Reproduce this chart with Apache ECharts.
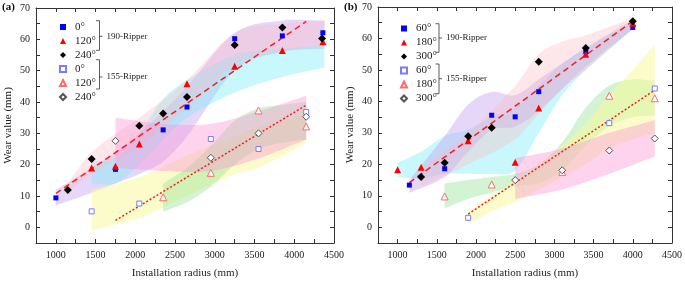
<!DOCTYPE html>
<html>
<head>
<meta charset="utf-8">
<script src="https://cdn.jsdelivr.net/npm/echarts@6/dist/echarts.min.js"></script>
<style>
  html, body { margin: 0; padding: 0; background: #fff; }
  #chart { width: 685px; height: 284px; }
</style>
</head>
<body>
<div id="chart"></div>
<script>
const FONT = 'Liberation Serif';

// panel (a) points [radius, wear]
const a190_0 = [[1000, 9.4], [1750, 18.5], [2350, 31.1], [2650, 38.4], [3250, 60.2], [3850, 61.1], [4360, 62.1]];
const a190_120 = [[1450, 18.9], [1750, 19.5], [2050, 26.6], [2650, 45.8], [3250, 51.4], [3850, 56.4], [4360, 59.2]];
const a190_240 = [[1150, 11.9], [1450, 21.8], [2050, 32.4], [2350, 36.3], [2650, 41.6], [3250, 58.2], [3850, 63.8], [4350, 60.3]];
const a155_0 = [[1450, 5.1], [2050, 7.6], [2950, 28.2], [3550, 25.0], [4150, 36.8]];
const a155_120 = [[2350, 9.6], [2950, 17.4], [3550, 37.3], [4150, 32.2]];
const a155_240 = [[1750, 27.6], [2950, 22.2], [3550, 30.0], [4150, 35.3]];
const a190Fit = [[1000, 10.8], [4150, 65.7]];
const a155Fit = [[1750, 2.2], [4150, 39.0]];

// panel (b) points
const b190_60 = [[1150, 13.4], [1600, 18.6], [2200, 35.6], [2500, 35.1], [2800, 43.1], [3400, 55.8], [4000, 63.5]];
const b190_180 = [[1000, 18.3], [1300, 19.1], [1900, 27.5], [2500, 20.7], [2800, 37.9], [3400, 55.0], [4000, 64.8]];
const b190_300 = [[1300, 16.0], [1600, 20.5], [1900, 28.9], [2200, 31.6], [2800, 52.6], [3400, 57.0], [4000, 65.5]];
const b155_60 = [[1900, 3.0], [3700, 33.1], [4280, 44.1]];
const b155_180 = [[1600, 9.8], [2200, 13.6], [3100, 17.6], [3700, 41.8], [4280, 41.0]];
const b155_300 = [[2500, 15.0], [3100, 18.1], [3700, 24.4], [4280, 28.2]];
const b190Fit = [[1150, 14.2], [4000, 65.5]];
const b155Fit = [[1900, 4.2], [4280, 43.6]];

// shaded bands [radius, lower, upper]
const aPurple = [[1000, 7, 12], [1450, 11, 19], [1750, 14, 24], [2050, 17, 30], [2350, 21, 37], [2650, 29, 45], [3250, 50, 62], [3850, 56, 66], [4380, 57, 66]];
const aCyan = [[1450, 14, 21], [1750, 14, 22], [2050, 20, 30], [2350, 28, 41], [2650, 35, 47], [3250, 43, 55], [3850, 48, 57], [4380, 51, 58]];
const aPink = [[1150, 11, 14], [1450, 17, 24], [2050, 26, 35], [2650, 38, 47], [3250, 52, 62], [3850, 56, 65], [4380, 58, 66]];
const aYellow = [[1450, -1, 12], [2050, 3, 16], [2650, 10, 23], [3250, 17, 29], [3550, 19, 32], [4150, 27, 36]];
const aGreen = [[2350, 5, 14], [2650, 8, 19], [2950, 13, 26], [3250, 20, 34], [3550, 25, 38], [3850, 27, 39], [4150, 28, 40]];
const aMagenta = [[1750, 19, 35], [2350, 18, 33], [2950, 18, 33], [3550, 22, 37], [4150, 28, 42]];

const bCyan = [[1000, 16, 20.5], [1300, 15.5, 24], [1600, 17, 29], [1900, 17, 31], [2200, 17, 35], [2500, 18, 38], [2800, 30, 45], [3100, 42, 52], [3400, 50, 57], [4000, 63, 65]];
const bPurple = [[1150, 11, 15], [1600, 16, 29], [1900, 24, 39], [2200, 31, 43], [2500, 32, 42], [2800, 37, 47], [3400, 51, 57], [4000, 63, 66]];
const bPink = [[1300, 13, 19], [1900, 20, 30], [2500, 28, 45], [2800, 36, 55], [3100, 44, 59], [3400, 50, 61], [4000, 63, 66.5]];
const bGreen = [[1600, 6, 14], [1900, 9, 15], [2200, 11, 16], [2500, 13, 17], [2800, 14, 20], [3100, 18, 27], [3400, 26, 38], [3700, 32, 45], [4000, 35, 47], [4280, 35.5, 46.5]];
const bYellow = [[1900, 1, 5], [2200, 5, 10], [2500, 8, 15], [2800, 12, 20], [3100, 16, 26], [3400, 20, 33], [3700, 25, 42], [4000, 28, 50], [4280, 30, 58]];
const bMagenta = [[2500, 9, 22], [3100, 12, 25], [3700, 17, 30], [4280, 22.5, 34]];

const legendText = {
  a190_0: '0°', a190_120: '120°', a190_240: '240°',
  a155_0: '0°', a155_120: '120°', a155_240: '240°',
  b190_60: '60°', b190_180: '180°', b190_300: '300°',
  b155_60: '60°', b155_180: '180°', b155_300: '300°'
};

const chart = echarts.init(document.getElementById('chart'));

function xAxes(g) {
  const base = {
    gridIndex: g, type: 'value', min: 750, max: 4500, interval: 250,
    axisLine: { show: true, onZero: false, lineStyle: { color: '#333', width: 1 } },
    axisTick: { show: true, inside: true, length: 4, lineStyle: { color: '#333' } },
    splitLine: { show: false }
  };
  return [
    Object.assign({}, base, {
      position: 'bottom',
      axisLabel: { fontFamily: FONT, fontSize: 10, color: '#222', margin: 7,
        formatter: v => (v % 500 === 0 && v >= 1000) ? v : '' },
      name: 'Installation radius (mm)', nameLocation: 'middle', nameGap: 25,
      nameTextStyle: { fontFamily: FONT, fontSize: 11, color: '#222' }
    }),
    Object.assign({}, base, { position: 'top', axisLabel: { show: false } })
  ];
}

function yAxes(g) {
  const base = {
    gridIndex: g, type: 'value', min: -5, max: 70, interval: 5,
    axisLine: { show: true, onZero: false, lineStyle: { color: '#333', width: 1 } },
    axisTick: { show: true, inside: true, length: 4, lineStyle: { color: '#333' } },
    splitLine: { show: false }
  };
  return [
    Object.assign({}, base, {
      position: 'left',
      axisLabel: { fontFamily: FONT, fontSize: 10, color: '#222', margin: 6,
        formatter: v => (v % 10 === 0) ? v : '' },
      name: 'Wear value (mm)', nameLocation: 'middle', nameRotate: 90, nameGap: 22,
      nameTextStyle: { fontFamily: FONT, fontSize: 11, color: '#222' }
    }),
    Object.assign({}, base, { position: 'right', axisLabel: { show: false } })
  ];
}

// smooth curve through pixel points (hermite, parameterised by x)
function smoothPts(p) {
  const n = p.length, m = [];
  for (let i = 0; i < n; i++) {
    const a = p[Math.max(i - 1, 0)], b = p[Math.min(i + 1, n - 1)];
    m.push((b[1] - a[1]) / (b[0] - a[0]));
  }
  const out = [];
  for (let i = 0; i < n - 1; i++) {
    const x0 = p[i][0], x1 = p[i + 1][0], h = x1 - x0;
    const steps = 12;
    for (let s = 0; s < steps; s++) {
      const t = s / steps, t2 = t * t, t3 = t2 * t;
      const y = (2 * t3 - 3 * t2 + 1) * p[i][1] + (t3 - 2 * t2 + t) * h * m[i] +
        (-2 * t3 + 3 * t2) * p[i + 1][1] + (t3 - t2) * h * m[i + 1];
      out.push([x0 + t * h, y]);
    }
  }
  out.push(p[n - 1]);
  return out;
}

function bandSeries(g, band, color) {
  return {
    type: 'custom', xAxisIndex: g * 2, yAxisIndex: g * 2, silent: true, z: 1,
    data: [[band[0][0], band[0][1]]],
    renderItem: function (params, api) {
      const up = smoothPts(band.map(r => api.coord([r[0], r[2]])));
      const lo = smoothPts(band.map(r => api.coord([r[0], r[1]])));
      return {
        type: 'polygon',
        shape: { points: up.concat(lo.reverse()) },
        style: { fill: color }
      };
    }
  };
}

function pointSeries(g, name, data, symbol, size, fill, border) {
  return {
    type: 'scatter', name: name, xAxisIndex: g * 2, yAxisIndex: g * 2, data: data,
    symbol: symbol, symbolSize: size, z: 5,
    itemStyle: { color: fill, borderColor: border || fill, borderWidth: border ? 1 : 0, opacity: 1 }
  };
}

function fitSeries(g, data, dash) {
  return {
    type: 'line', xAxisIndex: g * 2, yAxisIndex: g * 2, data: data, symbol: 'none',
    silent: true, z: 4,
    lineStyle: { color: '#ff1a1a', width: 1.5, type: dash }
  };
}

const PURPLE = 'rgba(190,150,240,0.38)';
const CYAN = 'rgba(120,238,248,0.4)';
const PINK = 'rgba(250,185,195,0.35)';
const YELLOW = 'rgba(250,250,150,0.5)';
const GREEN = 'rgba(150,228,150,0.42)';
const MAGENTA = 'rgba(250,150,215,0.42)';

const series = [
  bandSeries(0, aPurple, PURPLE),
  bandSeries(0, aCyan, CYAN),
  bandSeries(0, aPink, PINK),
  bandSeries(0, aYellow, YELLOW),
  bandSeries(0, aGreen, GREEN),
  bandSeries(0, aMagenta, MAGENTA),
  bandSeries(1, bCyan, CYAN),
  bandSeries(1, bPurple, PURPLE),
  bandSeries(1, bPink, PINK),
  bandSeries(1, bGreen, GREEN),
  bandSeries(1, bYellow, YELLOW),
  bandSeries(1, bMagenta, MAGENTA),
  fitSeries(0, a190Fit, [6, 4]),
  fitSeries(0, a155Fit, [2, 2]),
  fitSeries(1, b190Fit, [6, 4]),
  fitSeries(1, b155Fit, [2, 2]),
  pointSeries(0, 'a190_0', a190_0, 'rect', 5, '#0000ff'),
  pointSeries(0, 'a190_120', a190_120, 'triangle', 7, '#ff0000'),
  pointSeries(0, 'a190_240', a190_240, 'diamond', 8, '#000000'),
  pointSeries(0, 'a155_0', a155_0, 'rect', 5, '#ffffff', '#7b7bff'),
  pointSeries(0, 'a155_120', a155_120, 'triangle', 7, '#ffffff', '#ff6b6b'),
  pointSeries(0, 'a155_240', a155_240, 'diamond', 7, '#ffffff', '#555555'),
  pointSeries(1, 'b190_60', b190_60, 'rect', 5, '#0000ff'),
  pointSeries(1, 'b190_180', b190_180, 'triangle', 7, '#ff0000'),
  pointSeries(1, 'b190_300', b190_300, 'diamond', 8, '#000000'),
  pointSeries(1, 'b155_60', b155_60, 'rect', 5, '#ffffff', '#7b7bff'),
  pointSeries(1, 'b155_180', b155_180, 'triangle', 7, '#ffffff', '#ff6b6b'),
  pointSeries(1, 'b155_300', b155_300, 'diamond', 7, '#ffffff', '#555555')
];

const legendBase = {
  orient: 'vertical', itemWidth: 6, itemHeight: 6, itemGap: 3,
  selectedMode: false,
  textStyle: { fontFamily: FONT, fontSize: 11, color: '#222', padding: [0, 0, 0, 4] },
  formatter: n => legendText[n]
};

function bracket(x, y1, y2, ym, label) {
  return [
    { type: 'polyline', silent: true,
      shape: { points: [[x - 3.5, y1], [x, y1], [x, y2], [x - 3.5, y2]] },
      style: { stroke: '#333', fill: null, lineWidth: 0.8 } },
    { type: 'line', silent: true, shape: { x1: x, y1: ym, x2: x + 3, y2: ym },
      style: { stroke: '#333', lineWidth: 0.8 } },
    { type: 'text', silent: true, x: x + 7, y: ym,
      style: { text: label, font: '9px "' + FONT + '"', fill: '#222', verticalAlign: 'middle' } }
  ];
}

chart.setOption({
  animation: false,
  backgroundColor: '#fff',
  grid: [
    { left: 36, right: 351, top: 8, bottom: 37 },
    { left: 378, right: 13, top: 7, bottom: 37 }
  ],
  xAxis: xAxes(0).concat(xAxes(1)),
  yAxis: yAxes(0).concat(yAxes(1)),
  legend: [
    Object.assign({}, legendBase, { left: 54, top: 16.5,
      data: ['a190_0', 'a190_120', 'a190_240', 'a155_0', 'a155_120', 'a155_240'] }),
    Object.assign({}, legendBase, { left: 395, top: 18,
      data: ['b190_60', 'b190_180', 'b190_300', 'b155_60', 'b155_180', 'b155_300'] })
  ],
  graphic: [].concat(
    [
      { type: 'text', x: 2, y: 2, style: { text: '(a)', font: 'bold 11px "' + FONT + '"', fill: '#111' } },
      { type: 'text', x: 344, y: 2, style: { text: '(b)', font: 'bold 11px "' + FONT + '"', fill: '#111' } }
    ],
    bracket(99.5, 20.7, 50.3, 36.3, '190-Ripper'),
    bracket(99.5, 59.7, 89, 77, '155-Ripper'),
    bracket(439, 23.7, 52.3, 38, '190-Ripper'),
    bracket(439, 64, 93.7, 78.7, '155-Ripper')
  ),
  series: series
});
</script>
</body>
</html>
